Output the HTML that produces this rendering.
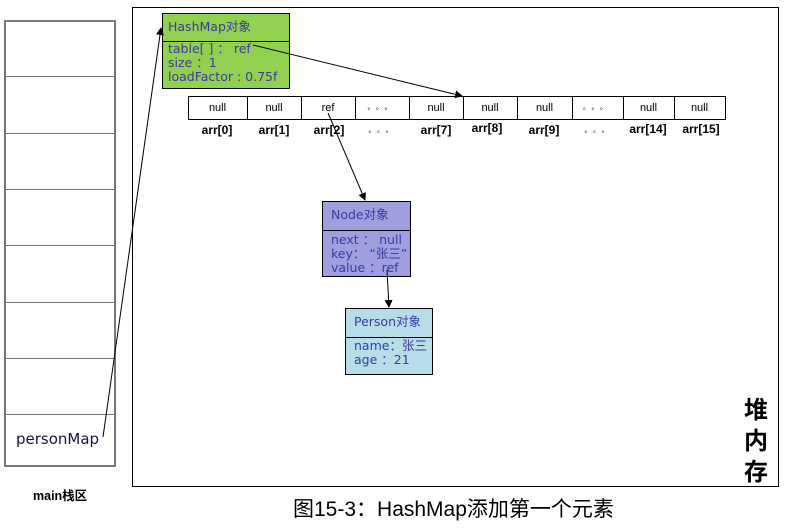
<!DOCTYPE html>
<html><head><meta charset="utf-8">
<style>
body{margin:0;width:790px;height:529px;background:#fff;position:relative;overflow:hidden;font-family:"Liberation Sans","Noto Sans CJK SC",sans-serif;}
.a{position:absolute;box-sizing:border-box;}
.cell{position:absolute;top:96px;height:24px;border:1px solid #000;border-left:none;font-size:11px;text-align:center;line-height:22px;box-sizing:border-box;}
.lbl{position:absolute;top:123px;font-size:12px;font-weight:bold;text-align:center;width:54px;}
.dots{font-size:7px;letter-spacing:5px;font-weight:normal;}
.obj{color:#3a3aa0;font-family:"DejaVu Sans","Noto Sans CJK SC",sans-serif;font-size:12.5px;}
</style></head><body>
<!-- stack -->
<div class="a" style="left:4px;top:20px;width:112px;height:447px;border:2px solid #777;"></div>
<div class="a" style="left:4px;top:76px;width:112px;border-top:1.5px solid #777"></div>
<div class="a" style="left:4px;top:133px;width:112px;border-top:1.5px solid #777"></div>
<div class="a" style="left:4px;top:189px;width:112px;border-top:1.5px solid #777"></div>
<div class="a" style="left:4px;top:245px;width:112px;border-top:1.5px solid #777"></div>
<div class="a" style="left:4px;top:302px;width:112px;border-top:1.5px solid #777"></div>
<div class="a" style="left:4px;top:358px;width:112px;border-top:1.5px solid #777"></div>
<div class="a" style="left:4px;top:414px;width:112px;border-top:1.5px solid #777"></div>
<div class="a" style="left:16px;top:430px;font-size:15px;color:#151545;font-family:'DejaVu Sans',sans-serif;">personMap</div>
<div class="a" style="left:33px;top:485px;font-size:12.5px;font-weight:bold;">main栈区</div>
<!-- heap -->
<div class="a" style="left:132px;top:7px;width:647px;height:480px;border:1px solid #000;"></div>
<div class="a" style="left:744px;top:392px;font-size:24px;font-weight:bold;line-height:31px;width:28px;font-family:'Noto Sans CJK SC',sans-serif;">堆<br>内<br>存</div>
<!-- HashMap -->
<div class="a obj" style="left:162px;top:13px;width:128px;height:76px;background:#92d050;border:1px solid #000;">
<div style="height:27px;border-bottom:1px solid #000;padding-left:5px;line-height:25px;">HashMap对象</div>
<div style="padding-left:5px;line-height:14px;padding-top:0px;">table[ ] ： ref<br>size ：1<br>loadFactor : 0.75f</div></div>
<!-- array -->
<div class="a" style="left:188px;top:96px;height:24px;border-left:1px solid #000"></div>
<div class="cell" style="left:188px;width:60px">null</div>
<div class="cell" style="left:247px;width:55px">null</div>
<div class="cell" style="left:301px;width:55px">ref</div>
<div class="cell dots" style="left:355px;width:55px">。。。</div>
<div class="cell" style="left:409px;width:55px">null</div>
<div class="cell" style="left:463px;width:55px">null</div>
<div class="cell" style="left:517px;width:56px">null</div>
<div class="cell dots" style="left:572px;width:52px">。。。</div>
<div class="cell" style="left:623px;width:52px">null</div>
<div class="cell" style="left:674px;width:52px">null</div>
<div class="lbl" style="left:190px">arr[0]</div>
<div class="lbl" style="left:247px">arr[1]</div>
<div class="lbl" style="left:302px">arr[2]</div>
<div class="lbl dots" style="left:356px;top:125px">。。。</div>
<div class="lbl" style="left:409px">arr[7]</div>
<div class="lbl" style="left:460px;top:121px">arr[8]</div>
<div class="lbl" style="left:517px">arr[9]</div>
<div class="lbl dots" style="left:572px;top:125px">。。。</div>
<div class="lbl" style="left:621px;top:122px">arr[14]</div>
<div class="lbl" style="left:674px;top:122px">arr[15]</div>
<!-- Node -->
<div class="a obj" style="left:322px;top:201px;width:89px;height:76px;background:#9f9fdf;border:1px solid #000;">
<div style="height:28px;border-bottom:1px solid #000;padding-left:8px;line-height:26px;">Node对象</div>
<div style="padding-left:8px;line-height:14px;padding-top:2px;">next ： null<br>key： “张三”<br>value ：ref</div></div>
<!-- Person -->
<div class="a obj" style="left:345px;top:308px;width:88px;height:67px;background:#b7dee8;border:1px solid #000;">
<div style="height:28px;border-bottom:1px solid #000;padding-left:8px;line-height:26px;">Person对象</div>
<div style="padding-left:8px;line-height:14px;padding-top:1px;">name：张三<br>age ：21</div></div>
<!-- arrows -->
<svg class="a" style="left:0;top:0" width="790" height="529">
<defs><marker id="m" markerWidth="8" markerHeight="8" refX="7" refY="4" orient="auto" markerUnits="userSpaceOnUse"><path d="M0,0L8,4L0,8z" fill="#000"/></marker></defs>
<g stroke="#000" stroke-width="1" fill="none">
<line x1="103" y1="437" x2="161" y2="28" marker-end="url(#m)"/>
<line x1="253" y1="45" x2="462" y2="96" marker-end="url(#m)"/>
<line x1="328" y1="113" x2="365" y2="200" marker-end="url(#m)"/>
<line x1="387" y1="270" x2="389" y2="307" marker-end="url(#m)"/>
</g></svg>
<div class="a" style="left:293px;top:493px;font-size:21px;font-family:'Liberation Sans','Noto Sans CJK SC',sans-serif;">图15-3：HashMap添加第一个元素</div>
</body></html>
